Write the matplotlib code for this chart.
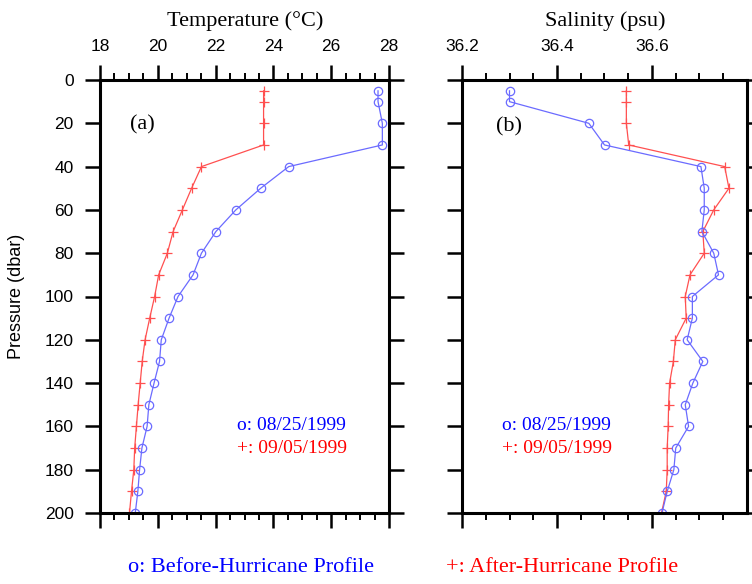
import numpy as np
import matplotlib
matplotlib.use('Agg')
import matplotlib.pyplot as plt
from matplotlib.ticker import MultipleLocator, FixedLocator

# pressure levels (dbar)
pres = [5, 10, 20, 30, 40, 50, 60, 70, 80, 90, 100, 110, 120, 130, 140, 150, 160, 170, 180, 190, 200]

# temperature (deg C)
temp_before = [27.62, 27.62, 27.77, 27.77, 24.53, 23.56, 22.70, 22.01, 21.51, 21.22, 20.70,
               20.39, 20.12, 20.06, 19.87, 19.69, 19.63, 19.45, 19.37, 19.31, 19.22]
temp_after = [23.66, 23.66, 23.66, 23.66, 21.51, 21.17, 20.85, 20.53, 20.33, 20.03, 19.89,
              19.72, 19.56, 19.46, 19.39, 19.32, 19.26, 19.20, 19.17, 19.09, 19.02]

# salinity (psu)
sal_before = [36.300, 36.300, 36.467, 36.500, 36.703, 36.710, 36.710, 36.705, 36.730, 36.740, 36.685,
              36.685, 36.674, 36.707, 36.686, 36.670, 36.677, 36.650, 36.646, 36.632, 36.621]
sal_after = [36.546, 36.546, 36.546, 36.551, 36.753, 36.762, 36.730, 36.707, 36.710, 36.680, 36.670,
             36.672, 36.649, 36.645, 36.637, 36.635, 36.634, 36.632, 36.632, 36.630, 36.620]

date_before = 'o: 08/25/1999'
date_after = '+: 09/05/1999'

blue_line = '#6b6bff'
red_line = '#ff5050'
serif = 'Liberation Serif'
sans = 'Liberation Sans'

fig = plt.figure(figsize=(7.52, 5.84), dpi=100)
ax1 = fig.add_axes([100/752, 1-513/584, 289/752, 433/584])
ax2 = fig.add_axes([462/752, 1-513/584, 285/752, 433/584])


def style_axis(ax, xlim, xmajor, xminor, show_y):
    ax.set_xlim(*xlim)
    ax.set_ylim(200, 0)
    ax.xaxis.set_major_locator(FixedLocator(xmajor))
    ax.xaxis.set_minor_locator(FixedLocator(xminor))
    ax.yaxis.set_major_locator(MultipleLocator(20))
    ax.tick_params(axis='x', which='both', direction='out', top=True, bottom=True,
                   labeltop=True, labelbottom=False)
    ax.tick_params(axis='y', which='both', direction='out', left=True, right=True,
                   labelleft=show_y, labelright=False)
    ax.tick_params(which='major', length=11, width=1.8, pad=8, labelsize=12.5)
    ax.tick_params(which='minor', length=5, width=1.4)
    for lab in ax.get_xticklabels() + ax.get_yticklabels():
        lab.set_fontfamily(sans)
    for sp in ax.spines.values():
        sp.set_linewidth(2.2)


style_axis(ax1, (18, 28), np.arange(18, 28.1, 2), np.arange(18, 28.01, 0.5), True)
style_axis(ax2, (36.2, 36.8), [36.2, 36.4, 36.6], np.arange(36.2, 36.76, 0.05), False)

ax1.plot(temp_after, pres, color=red_line, lw=0.9, marker='+', ms=7, mew=0.9)
ax1.plot(temp_before, pres, color=blue_line, lw=0.9, marker='o', ms=6, mfc='none', mew=0.9)
ax2.plot(sal_after, pres, color=red_line, lw=0.9, marker='+', ms=7, mew=0.9)
ax2.plot(sal_before, pres, color=blue_line, lw=0.9, marker='o', ms=6, mfc='none', mew=0.9)

ax1.text(0.104, 0.896, '(a)', transform=ax1.transAxes, fontsize=16, family=serif, va='center')
ax2.text(0.119, 0.891, '(b)', transform=ax2.transAxes, fontsize=16, family=serif, va='center')

ax1.text(0.474, 0.201, date_before, transform=ax1.transAxes, color='blue', fontsize=14, family=serif, va='center')
ax1.text(0.474, 0.150, date_after, transform=ax1.transAxes, color='red', fontsize=14, family=serif, va='center')
ax2.text(0.140, 0.201, date_before, transform=ax2.transAxes, color='blue', fontsize=14, family=serif, va='center')
ax2.text(0.140, 0.150, date_after, transform=ax2.transAxes, color='red', fontsize=14, family=serif, va='center')

ax1.set_ylabel('Pressure (dbar)', fontsize=13, family=sans)
ax1.yaxis.set_label_coords(-0.26, 0.5)

fig.text(245/752, 1-21/584, 'Temperature (°C)', ha='center', va='center', fontsize=16, family=serif)
fig.text(605/752, 1-21/584, 'Salinity (psu)', ha='center', va='center', fontsize=16, family=serif)

fig.text(128/752, 1-567/584, 'o: Before-Hurricane Profile', color='blue', ha='left', va='center',
         fontsize=16, family=serif)
fig.text(446/752, 1-567/584, '+: After-Hurricane Profile', color='red', ha='left', va='center',
         fontsize=16, family=serif)

plt.savefig('out.png', dpi=100)
plt.close()
